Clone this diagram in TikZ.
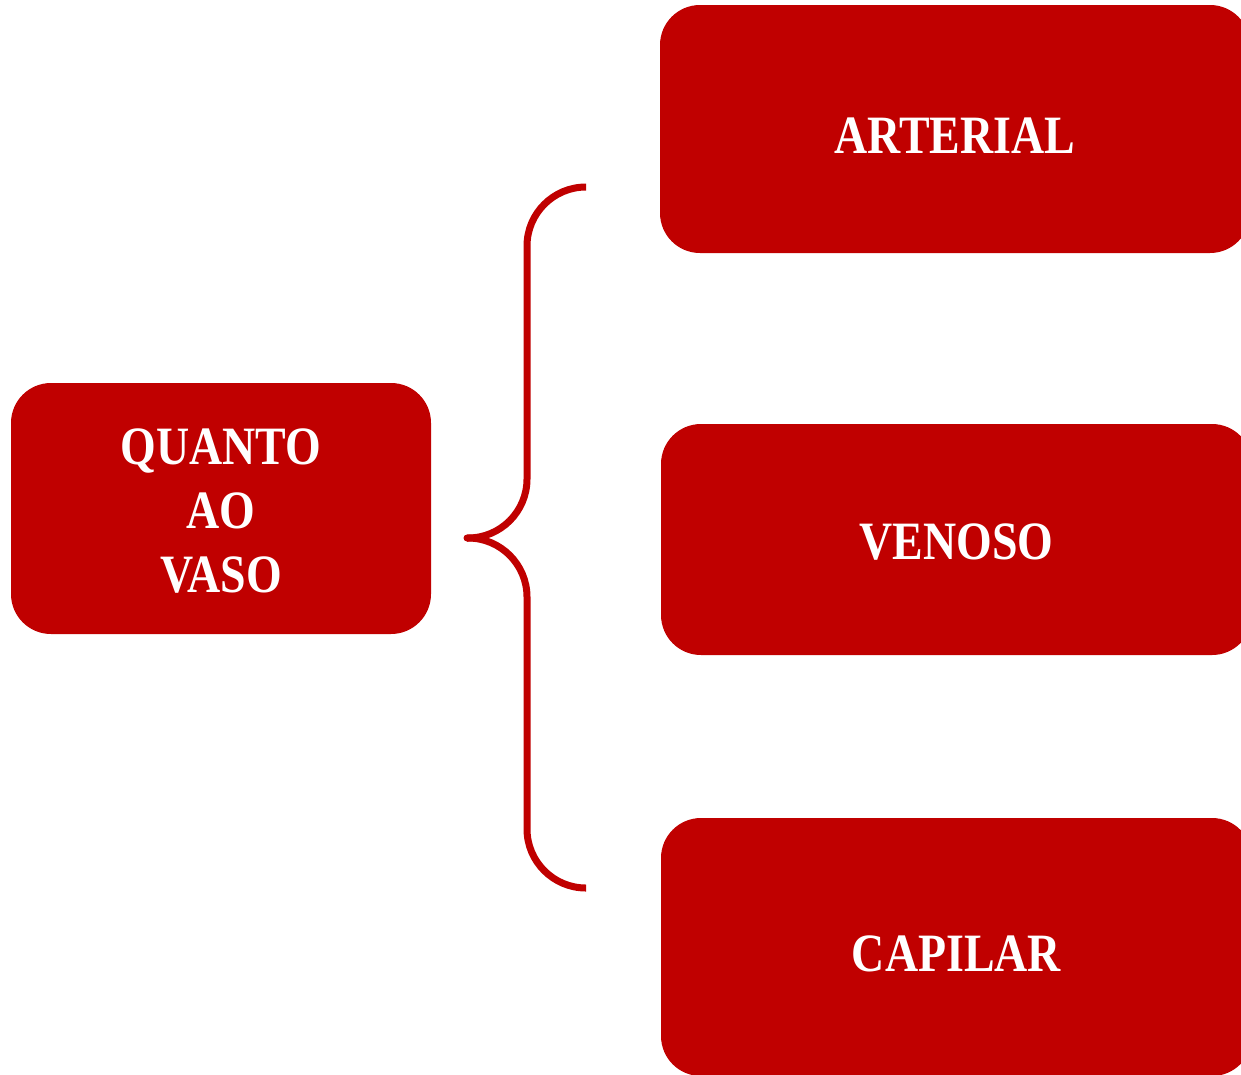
\documentclass[tikz,border=0pt]{standalone}
\usepackage{fontspec}
\setmainfont[FakeStretch=0.85]{Liberation Serif}
\definecolor{boxred}{RGB}{192,0,0}
\begin{document}
\begin{tikzpicture}[x=1pt,y=-1pt,
  redbox/.style={fill=boxred,draw=none,rounded corners=40pt,inner sep=0pt},
  boxtext/.style={text=white,font=\bfseries\fontsize{54}{64}\selectfont,align=center,inner sep=0pt},
  brace/.style={draw=boxred,line width=7pt,line cap=butt,rounded corners=59pt}]
\useasboundingbox (0,0) rectangle (1241,1074);
\clip (0,0) rectangle (1241,1074);
\node[redbox,minimum width=420pt,minimum height=251pt] (q) at (221,508.5) {};
\node[redbox,minimum width=590pt,minimum height=248pt] (a) at (955,129) {};
\node[redbox,minimum width=591pt,minimum height=231pt] (v) at (956.5,539.5) {};
\node[redbox,minimum width=591pt,minimum height=258pt] (c) at (956.5,947) {};
\node[boxtext,yshift=-3pt] (qt) at (q.center) {QUANTO\\AO\\VASO};
\node[boxtext,yshift=-7pt] (at) at (a.center) {ARTERIAL};
\node[boxtext,yshift=-3pt] (vt) at (v.center) {VENOSO};
\node[boxtext,yshift=-7pt] (ct) at (c.center) {CAPILAR};
\coordinate (bt) at (585,187);
\coordinate (bm) at (467,538);
\coordinate (bb) at (585,888);
\draw[brace] (bt) -| (527,538) -- (bm);
\draw[brace] (bm) -- (527,538) |- (bb);
\fill[boxred] (bm) circle (3.5pt);
\end{tikzpicture}
\end{document}
